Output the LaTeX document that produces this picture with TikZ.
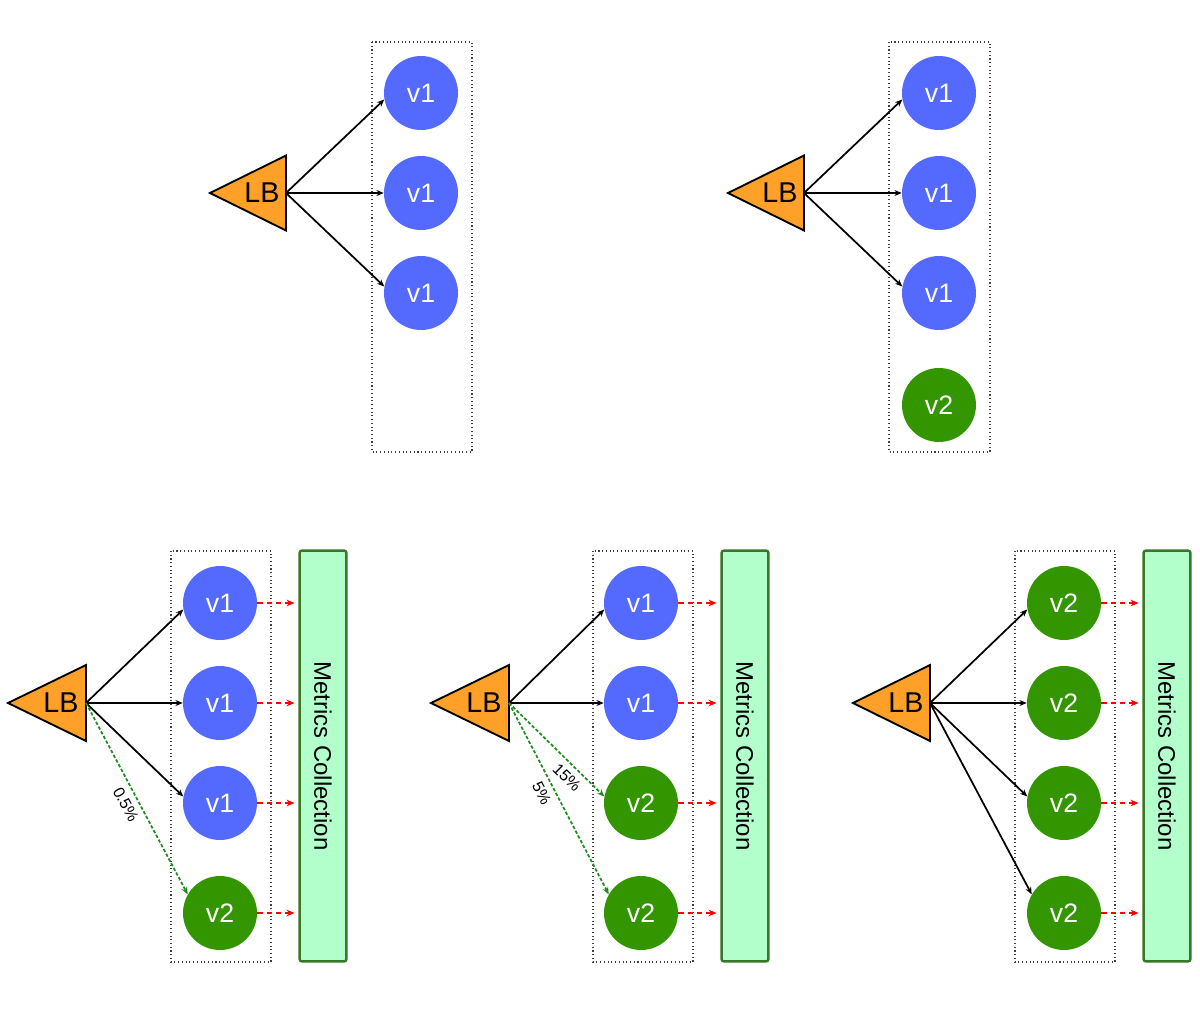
\documentclass[tikz,border=0pt]{standalone}
\usepackage{fontspec}
\setmainfont{Liberation Sans}
\usetikzlibrary{arrows.meta}

\definecolor{lborange}{RGB}{255,160,40}
\definecolor{vonecol}{RGB}{84,106,255}
\definecolor{vtwocol}{RGB}{51,150,0}
\definecolor{metricfill}{RGB}{179,255,204}
\definecolor{metricline}{RGB}{56,118,40}
\definecolor{canarycol}{RGB}{30,140,30}

\begin{document}
\begin{tikzpicture}[x=0.75pt,y=-0.75pt,
    lbshape/.style={draw=black,line width=1.4pt,fill=lborange,line join=miter},
    lbtext/.style={inner sep=0pt,font=\fontsize{21.5}{24}\selectfont},
    pool/.style={draw=black!75,dotted,line width=0.8pt},
    vone/.style={circle,fill=vonecol,text=white,minimum size=55.5pt,inner sep=0pt,font=\fontsize{20}{22}\selectfont},
    vtwo/.style={vone,fill=vtwocol},
    metrics/.style={draw=metricline,fill=metricfill,line width=1.8pt,rounded corners=1.5pt,rotate=-90,
        minimum width=308pt,minimum height=35pt,inner sep=0pt,font=\fontsize{18}{20}\selectfont},
    route/.style={-{Stealth[length=5.5pt,width=4.5pt]},line width=1.3pt},
    canary/.style={route,draw=canarycol,dash pattern=on 2.5pt off 1.5pt},
    report/.style={-{Stealth[length=6pt,width=5pt]},draw=red,line width=1.7pt,dash pattern=on 4pt off 3pt,shorten >=3pt},
    share/.style={sloped,below,inner sep=4.5pt,font=\fontsize{12}{14}\selectfont}]

    \useasboundingbox (0,0) rectangle (1200,1018);

    % Top left: only v1 %
    \begin{scope}[shift={(210,193)}]
        \draw[lbshape] (0,0) -- (76,-37.5) -- (76,37.5) -- cycle;
        \node[lbtext] (aLB) at (52,0) {LB};
        \coordinate (aout) at (76,0);
        \draw[pool] (162,-151) rectangle (262,259);
        \node[vone] (a1) at (211,-100) {v1};
        \node[vone] (a2) at (211,0) {v1};
        \node[vone] (a3) at (211,100) {v1};
        \draw[route] (aout) -- (a1.190);
        \draw[route] (aout) -- (a2.west);
        \draw[route] (aout) -- (a3.170);
    \end{scope}

    % Top right: v2 deployed, no traffic %
    \begin{scope}[shift={(728,193)}]
        \draw[lbshape] (0,0) -- (76,-37.5) -- (76,37.5) -- cycle;
        \node[lbtext] (bLB) at (52,0) {LB};
        \coordinate (bout) at (76,0);
        \draw[pool] (161,-151) rectangle (262,259);
        \node[vone] (b1) at (211,-100) {v1};
        \node[vone] (b2) at (211,0) {v1};
        \node[vone] (b3) at (211,100) {v1};
        \node[vtwo] (b4) at (211,212) {v2};
        \draw[route] (bout) -- (b1.190);
        \draw[route] (bout) -- (b2.west);
        \draw[route] (bout) -- (b3.170);
    \end{scope}

    % Bottom left: 0.5% to v2 %
    \begin{scope}[shift={(8,703)}]
        \draw[lbshape] (0,0) -- (78,-38) -- (78,38) -- cycle;
        \node[lbtext] (cLB) at (53,0) {LB};
        \coordinate (cout) at (78,0);
        \draw[pool] (163,-152) rectangle (263,259);
        \node[vone] (c1) at (212,-100) {v1};
        \node[vone] (c2) at (212,0) {v1};
        \node[vone] (c3) at (212,100) {v1};
        \node[vtwo] (c4) at (212,210) {v2};
        \node[metrics] (cM) at (315,53) {Metrics Collection};
        \draw[route] (cout) -- (c1.190);
        \draw[route] (cout) -- (c2.west);
        \draw[route] (cout) -- (c3.170);
        \draw[canary] (cout) -- node[share,pos=0.5] {0.5\%} (c4.150);
        \foreach \c in {c1,c2,c3,c4}
            \draw[report] (\c.east) -- (\c.east -| cM.south);
    \end{scope}

    % Bottom middle: 15% and 5% to v2 %
    \begin{scope}[shift={(431,703)}]
        \draw[lbshape] (0,0) -- (78,-38) -- (78,38) -- cycle;
        \node[lbtext] (dLB) at (53,0) {LB};
        \coordinate (dout) at (78,0);
        \draw[pool] (162,-152) rectangle (262,259);
        \node[vone] (d1) at (210,-100) {v1};
        \node[vone] (d2) at (210,0) {v1};
        \node[vtwo] (d3) at (210,100) {v2};
        \node[vtwo] (d4) at (210,210) {v2};
        \node[metrics] (dM) at (314,53) {Metrics Collection};
        \draw[route] (dout) -- (d1.190);
        \draw[route] (dout) -- (d2.west);
        \draw[canary] (dout) -- node[share,pos=0.7] {15\%} (d3.170);
        \draw[canary] (dout) -- node[share,pos=0.44] {5\%} (d4.150);
        \foreach \c in {d1,d2,d3,d4}
            \draw[report] (\c.east) -- (\c.east -| dM.south);
    \end{scope}

    % Bottom right: all v2 %
    \begin{scope}[shift={(853,703)}]
        \draw[lbshape] (0,0) -- (77,-38) -- (77,38) -- cycle;
        \node[lbtext] (eLB) at (53,0) {LB};
        \coordinate (eout) at (77,0);
        \draw[pool] (162,-152) rectangle (262,259);
        \node[vtwo] (e1) at (211,-100) {v2};
        \node[vtwo] (e2) at (211,0) {v2};
        \node[vtwo] (e3) at (211,100) {v2};
        \node[vtwo] (e4) at (211,210) {v2};
        \node[metrics] (eM) at (314,53) {Metrics Collection};
        \draw[route] (eout) -- (e1.190);
        \draw[route] (eout) -- (e2.west);
        \draw[route] (eout) -- (e3.170);
        \draw[route] (eout) -- (e4.150);
        \foreach \c in {e1,e2,e3,e4}
            \draw[report] (\c.east) -- (\c.east -| eM.south);
    \end{scope}

\end{tikzpicture}
\end{document}
